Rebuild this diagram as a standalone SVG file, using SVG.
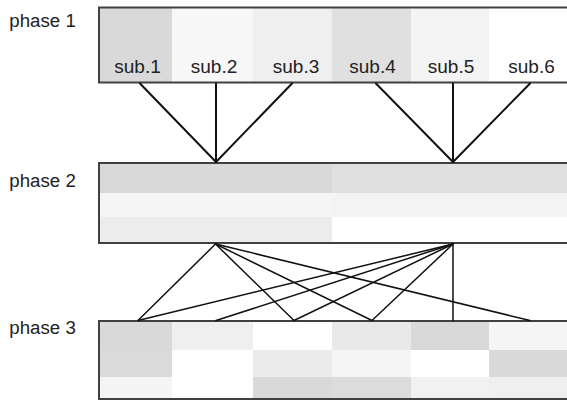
<svg xmlns="http://www.w3.org/2000/svg" width="567" height="400" viewBox="0 0 567 400">
<style>
  .lbl { font-family: "Liberation Sans", Arial, sans-serif; font-size: 18px; fill: #222; }
  .sub { font-family: "Liberation Sans", Arial, sans-serif; font-size: 18px; fill: #222; text-anchor: middle; }
  .frame { fill: none; stroke: #404040; stroke-width: 2; }
  .c1 { stroke: #111; stroke-width: 2; fill: none; stroke-linecap: round; }
  .c2 { stroke: #111; stroke-width: 1.5; fill: none; stroke-linecap: round; }
</style>
<rect width="567" height="400" fill="#ffffff"/>

<g id="phase1">
  <text class="lbl" x="9.3" y="26.7" textLength="66.5" lengthAdjust="spacingAndGlyphs">phase 1</text>
  <rect x="99" y="7.5" width="73" height="75" fill="#d9d9d9"/>
  <rect x="172" y="7.5" width="81" height="75" fill="#f7f7f7"/>
  <rect x="253" y="7.5" width="79" height="75" fill="#efefef"/>
  <rect x="332" y="7.5" width="79" height="75" fill="#e0e0e0"/>
  <rect x="411" y="7.5" width="78" height="75" fill="#f3f3f3"/>
  <rect x="489" y="7.5" width="80" height="75" fill="#ffffff"/>
  <rect class="frame" x="99" y="7.5" width="472" height="75"/>
  <text class="sub" x="137.5" y="72.7" textLength="46.5" lengthAdjust="spacingAndGlyphs">sub.1</text>
  <text class="sub" x="214" y="72.7" textLength="46.5" lengthAdjust="spacingAndGlyphs">sub.2</text>
  <text class="sub" x="296" y="72.7" textLength="46.5" lengthAdjust="spacingAndGlyphs">sub.3</text>
  <text class="sub" x="372.5" y="72.7" textLength="46.5" lengthAdjust="spacingAndGlyphs">sub.4</text>
  <text class="sub" x="451" y="72.7" textLength="46.5" lengthAdjust="spacingAndGlyphs">sub.5</text>
  <text class="sub" x="531.5" y="72.7" textLength="46.5" lengthAdjust="spacingAndGlyphs">sub.6</text>
</g>

<g id="phase2">
  <text class="lbl" x="9.3" y="187.3" textLength="66.5" lengthAdjust="spacingAndGlyphs">phase 2</text>
  <rect x="99" y="163" width="233" height="30" fill="#d9d9d9"/>
  <rect x="99" y="193" width="233" height="24" fill="#f5f5f5"/>
  <rect x="99" y="217" width="233" height="26" fill="#ececec"/>
  <rect x="332" y="163" width="237" height="30" fill="#e0e0e0"/>
  <rect x="332" y="193" width="237" height="24" fill="#f3f3f3"/>
  <rect x="332" y="217" width="237" height="26" fill="#ffffff"/>
  <rect class="frame" x="99" y="163" width="472" height="80"/>
</g>

<g id="phase3">
  <text class="lbl" x="9.3" y="334.3" textLength="66.5" lengthAdjust="spacingAndGlyphs">phase 3</text>
  <rect x="99" y="321" width="73" height="29" fill="#d9d9d9"/>
  <rect x="99" y="350" width="73" height="27" fill="#dadada"/>
  <rect x="99" y="377" width="73" height="22" fill="#f4f4f4"/>
  <rect x="172" y="321" width="81" height="29" fill="#efefef"/>
  <rect x="172" y="350" width="81" height="27" fill="#ffffff"/>
  <rect x="172" y="377" width="81" height="22" fill="#ffffff"/>
  <rect x="253" y="321" width="79" height="29" fill="#ffffff"/>
  <rect x="253" y="350" width="79" height="27" fill="#ebebeb"/>
  <rect x="253" y="377" width="79" height="22" fill="#d9d9d9"/>
  <rect x="332" y="321" width="79" height="29" fill="#e9e9e9"/>
  <rect x="332" y="350" width="79" height="27" fill="#f5f5f5"/>
  <rect x="332" y="377" width="79" height="22" fill="#dcdcdc"/>
  <rect x="411" y="321" width="78" height="29" fill="#d9d9d9"/>
  <rect x="411" y="350" width="78" height="27" fill="#ffffff"/>
  <rect x="411" y="377" width="78" height="22" fill="#f1f1f1"/>
  <rect x="489" y="321" width="80" height="29" fill="#f5f5f5"/>
  <rect x="489" y="350" width="80" height="27" fill="#d9d9d9"/>
  <rect x="489" y="377" width="80" height="22" fill="#efefef"/>
  <rect class="frame" x="99" y="321" width="472" height="78"/>
</g>

<g id="connectors">
  <line class="c1" x1="140" y1="83.5" x2="216" y2="162"/>
  <line class="c1" x1="216" y1="83.5" x2="216" y2="162"/>
  <line class="c1" x1="292" y1="83.5" x2="216" y2="162"/>
  <line class="c1" x1="376" y1="83.5" x2="453" y2="162"/>
  <line class="c1" x1="453" y1="83.5" x2="453" y2="162"/>
  <line class="c1" x1="530" y1="83.5" x2="453" y2="162"/>

  <line class="c2" x1="215.5" y1="244" x2="138" y2="320.5"/>
  <line class="c2" x1="215.5" y1="244" x2="294" y2="320.5"/>
  <line class="c2" x1="215.5" y1="244" x2="372" y2="320.5"/>
  <line class="c2" x1="215.5" y1="244" x2="530" y2="320.5"/>
  <line class="c2" x1="453" y1="244" x2="138" y2="320.5"/>
  <line class="c2" x1="453" y1="244" x2="216" y2="320.5"/>
  <line class="c2" x1="453" y1="244" x2="294" y2="320.5"/>
  <line class="c2" x1="453" y1="244" x2="372" y2="320.5"/>
  <line class="c2" x1="453" y1="244" x2="453" y2="320.5"/>
</g>
</svg>
